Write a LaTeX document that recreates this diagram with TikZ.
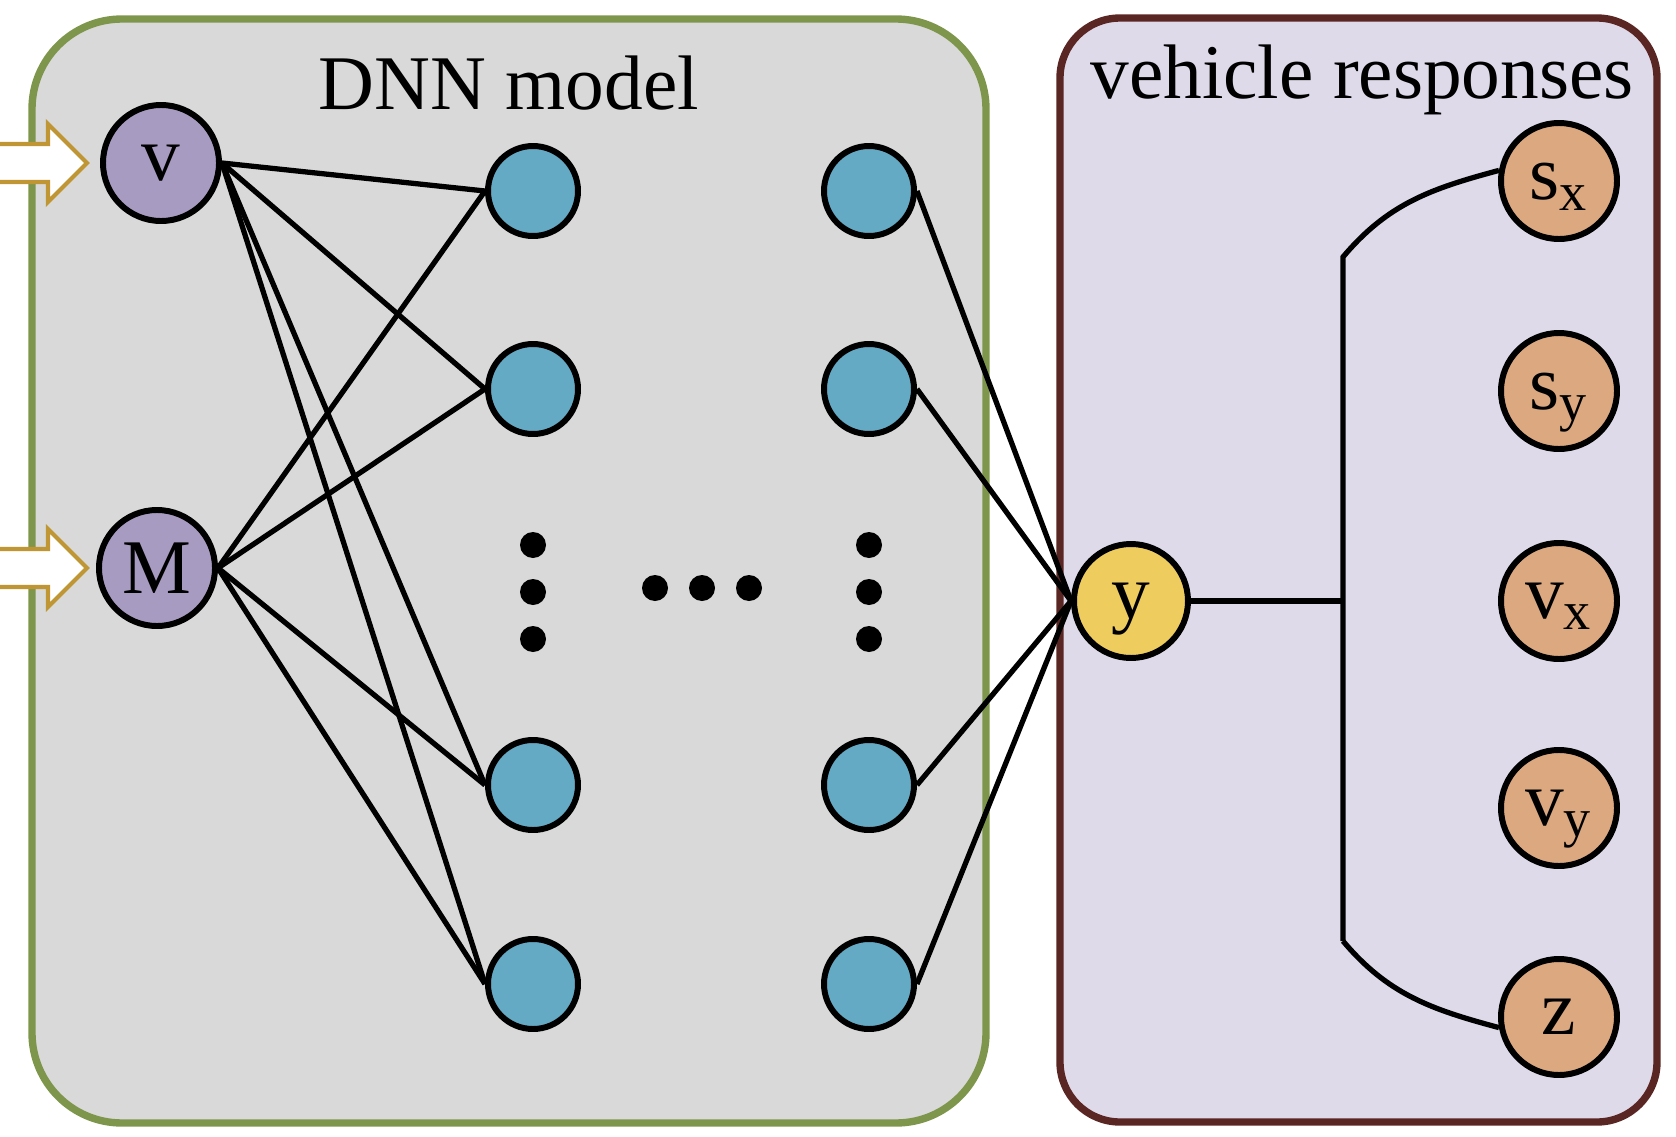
\documentclass[tikz,border=0pt]{standalone}
\usepackage{fontspec}
\setmainfont{Liberation Serif}

\definecolor{modelfill}{RGB}{217,217,217}
\definecolor{modelline}{RGB}{126,150,76}
\definecolor{vehiclefill}{RGB}{223,218,233}
\definecolor{vehicleline}{RGB}{90,38,36}
\definecolor{inputfill}{RGB}{168,155,193}
\definecolor{hiddenfill}{RGB}{100,170,196}
\definecolor{outputfill}{RGB}{239,204,94}
\definecolor{responsefill}{RGB}{219,168,128}
\definecolor{feedline}{RGB}{192,150,52}

\begin{document}
\begin{tikzpicture}[neuron/.style={circle,draw,line width=1.7pt,inner sep=0pt,text depth=0pt,font=\fontsize{22}{26}\selectfont},
                    input neuron/.style={neuron,fill=inputfill,minimum size=11.6mm},
                    hidden neuron/.style={neuron,fill=hiddenfill,minimum size=9.0mm},
                    output neuron/.style={neuron,fill=outputfill,minimum size=11.4mm},
                    response neuron/.style={neuron,fill=responsefill,minimum size=11.6mm},
                    panel/.style={line width=2.1pt},
                    panel title/.style={anchor=base,font=\fontsize{22}{26}\selectfont},
                    link/.style={line width=1.5pt},
                    feed/.style={draw=feedline,fill=white,line width=1.2pt},
                    ellipsis dot/.style={fill=black}]
    \path[use as bounding box] (0,0) rectangle (16.76,11.36);

    % the two panels
    \draw[panel,draw=modelline,fill=modelfill,rounded corners=9mm] (0.32,0.13) rectangle (9.86,11.17);
    \draw[panel,draw=vehicleline,fill=vehiclefill,rounded corners=6mm] (10.60,0.14) rectangle (16.57,11.18);
    \node[panel title] (model title) at (5.09,10.27) {DNN model};
    \node[panel title] (vehicle title) at (13.62,10.38) {vehicle responses};

    \coordinate (v feed) at (0.87,9.73);
    \coordinate (M feed) at (0.87,5.68);
    \coordinate (bracket top) at (13.43,8.79);
    \coordinate (bracket mid) at (13.43,5.35);
    \coordinate (bracket bottom) at (13.43,1.95);

    % input layer
    \node[input neuron] (v) at (1.61,9.73) {v};
    \node[input neuron] (M) at (1.57,5.68) {M};

    % hidden layers
    \node[hidden neuron] (left 1) at (5.33,9.45) {};
    \node[hidden neuron] (left 2) at (5.33,7.47) {};
    \node[hidden neuron] (left 3) at (5.33,3.51) {};
    \node[hidden neuron] (left 4) at (5.33,1.52) {};
    \node[hidden neuron] (right 1) at (8.69,9.45) {};
    \node[hidden neuron] (right 2) at (8.69,7.47) {};
    \node[hidden neuron] (right 3) at (8.69,3.51) {};
    \node[hidden neuron] (right 4) at (8.69,1.52) {};

    % output and responses
    \node[output neuron] (y) at (11.31,5.35) {y};
    \node[response neuron] (sx) at (15.59,9.55) {s\textsubscript{x}};
    \node[response neuron] (sy) at (15.59,7.45) {s\textsubscript{y}};
    \node[response neuron] (vx) at (15.59,5.35) {v\textsubscript{x}};
    \node[response neuron] (vy) at (15.59,3.28) {v\textsubscript{y}};
    \node[response neuron] (z) at (15.59,1.19) {z};

    % dots
    \fill[ellipsis dot] (5.33,5.91) circle[radius=0.13] (5.33,5.44) circle[radius=0.13] (5.33,4.97) circle[radius=0.13];
    \fill[ellipsis dot] (8.69,5.91) circle[radius=0.13] (8.69,5.44) circle[radius=0.13] (8.69,4.97) circle[radius=0.13];
    \fill[ellipsis dot] (6.55,5.48) circle[radius=0.13] (7.02,5.48) circle[radius=0.13] (7.49,5.48) circle[radius=0.13];

    % connections
    \draw[link] (v.east) -- (left 1.west);
    \draw[link] (v.east) -- (left 2.west);
    \draw[link] (v.east) -- (left 3.west);
    \draw[link] (v.east) -- (left 4.west);
    \draw[link] (M.east) -- (left 1.west);
    \draw[link] (M.east) -- (left 2.west);
    \draw[link] (M.east) -- (left 3.west);
    \draw[link] (M.east) -- (left 4.west);
    \draw[link] (right 1.east) -- (y.west);
    \draw[link] (right 2.east) -- (y.west);
    \draw[link] (right 3.east) -- (y.west);
    \draw[link] (right 4.east) -- (y.west);
    \draw[link] (y.east) -- (bracket mid);
    \draw[link] (bracket bottom) -- (bracket top) to[out=50,in=195] (sx.170);
    \draw[link] (bracket bottom) to[out=-50,in=165] (z.190);

    % inputs
    \draw[feed] (v feed) -- ++(-0.39,0.39) -- ++(0,-0.2) -- ++(-0.6,0) -- ++(0,-0.38) -- ++(0.6,0) -- ++(0,-0.2) -- cycle;
    \draw[feed] (M feed) -- ++(-0.39,0.39) -- ++(0,-0.2) -- ++(-0.6,0) -- ++(0,-0.38) -- ++(0.6,0) -- ++(0,-0.2) -- cycle;
\end{tikzpicture}
\end{document}
